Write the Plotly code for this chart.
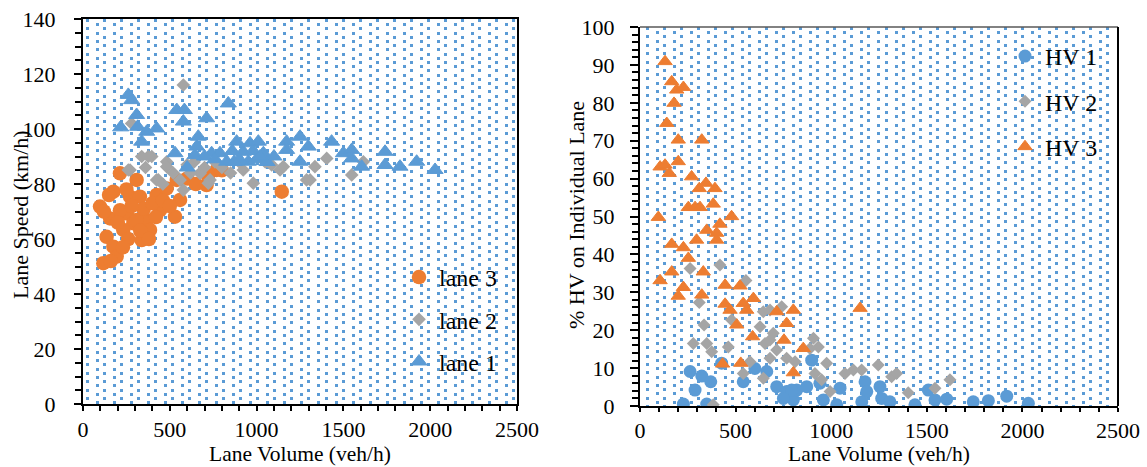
import plotly.graph_objects as go

# ---------------- data: left panel (Lane Speed vs Lane Volume) ----------------
lane3_vol = [213, 309, 175, 98, 156, 271, 328, 424, 482, 540, 559, 712, 770, 1145, 530, 444,
             252, 290, 367, 386, 338, 136, 175, 194, 117, 213, 232, 309, 150, 200, 260, 350,
             400, 460, 600, 650, 720, 800, 280, 330, 230, 160, 120, 380, 420, 250, 500]
lane3_speed = [83.9, 81.5, 77.2, 71.8, 67.5, 75.4, 75.4, 76.0, 78.4, 81.5, 74.2, 79.6, 85.1, 77.2, 68.1, 70.5,
               69.3, 65.7, 66.9, 63.3, 59.6, 60.8, 57.2, 53.6, 51.2, 70.5, 63.3, 66.9, 76.0, 66.0, 60.0, 71.0,
               73.0, 74.0, 82.0, 80.0, 83.0, 85.0, 72.0, 63.0, 57.0, 52.0, 70.0, 60.0, 68.0, 78.0, 72.0]

lane2_vol = [578, 280, 396, 338, 1404, 1615, 1336, 1308, 1548, 981, 1135, 1087, 923, 482, 261, 434,
             674, 722, 376, 271, 424, 482, 578, 559, 674, 732, 1154, 1288, 600, 640, 700, 760,
             800, 850, 520, 460, 360, 620, 1050, 900]
lane2_speed = [116.0, 102.0, 90.0, 90.0, 89.3, 88.1, 86.3, 81.5, 83.3, 80.3, 85.1, 86.9, 85.1, 88.1, 85.1, 81.5,
               84.0, 80.3, 90.0, 85.1, 81.5, 86.3, 77.8, 81.5, 83.9, 81.5, 86.3, 81.5, 87.0, 88.0, 86.0, 88.0,
               86.0, 84.0, 84.0, 80.0, 86.0, 84.0, 88.0, 88.0]

lane1_vol = [261, 280, 217, 309, 315, 367, 424, 338, 540, 584, 578, 712, 837, 530, 664, 655,
             645, 741, 789, 828, 885, 923, 962, 1010, 1039, 952, 1173, 1173, 1250, 1298, 1250, 1432,
             1500, 1548, 1605, 1548, 1740, 1740, 1826, 1922, 2028, 700, 760, 860, 1000, 1100, 600, 1060,
             900, 980, 1020, 870]
lane1_speed = [112.4, 110.5, 100.6, 105.1, 100.8, 99.0, 100.2, 95.4, 106.9, 106.9, 102.7, 103.9, 109.3, 91.2, 97.2, 93.6,
               90.5, 91.2, 91.2, 88.1, 95.4, 91.7, 94.8, 95.4, 91.2, 88.1, 95.4, 92.4, 97.2, 93.6, 88.1, 95.4,
               91.2, 92.4, 86.3, 89.3, 91.7, 86.9, 86.3, 88.1, 85.1, 90.0, 89.0, 92.0, 89.0, 90.0, 86.0, 88.0,
               89.0, 92.0, 90.0, 88.0]

# ---------------- data: right panel (% HV vs Lane Volume) ----------------
hv1_vol = [427, 262, 323, 370, 288, 227, 349, 540, 663, 601, 898, 715, 767, 802, 820, 872,
           941, 959, 1029, 1046, 1177, 1186, 1160, 1255, 1264, 1307, 1438, 1508, 1543, 1604, 1743, 1822,
           1918, 2031, 793, 750]
hv1_pct = [11.3, 9.1, 7.9, 6.4, 4.2, 0.5, 0.5, 6.4, 9.1, 9.9, 12.1, 5.1, 3.8, 1.6, 4.2, 5.1,
           6.0, 1.6, 0.3, 4.7, 6.4, 3.8, 1.1, 5.1, 2.0, 1.1, 0.3, 4.2, 1.6, 1.8, 1.1, 1.4,
           2.6, 0.7, 4.2, 2.0]

hv2_vol = [262, 418, 554, 310, 335, 645, 680, 741, 479, 628, 697, 680, 279, 349, 375, 462,
           654, 715, 907, 933, 889, 575, 680, 767, 811, 976, 540, 645, 915, 950, 994, 1072,
           1116, 1159, 1246, 1316, 1342, 1403, 1543, 1621, 383]
hv2_pct = [36.3, 37.2, 33.1, 27.3, 21.4, 24.9, 25.3, 26.2, 22.7, 20.9, 19.2, 17.4, 16.5, 16.5, 14.3, 15.6,
           16.5, 14.8, 17.9, 15.6, 15.2, 11.7, 12.6, 12.6, 11.7, 11.3, 8.6, 7.3, 8.6, 6.9, 3.8, 8.6,
           9.5, 9.5, 10.8, 7.7, 8.6, 3.5, 4.7, 6.9, 0.3]

hv3_vol = [131, 166, 192, 227, 178, 140, 200, 323, 200, 105, 131, 153, 270, 310, 345, 392,
           253, 288, 314, 383, 96, 479, 418, 349, 401, 401, 296, 166, 227, 253, 166, 331,
           105, 227, 200, 323, 445, 523, 445, 471, 540, 558, 593, 506, 715, 802, 767, 589,
           753, 854, 432, 527, 802, 1151]
hv3_pct = [90.9, 85.6, 83.4, 84.1, 79.9, 74.6, 70.2, 70.2, 64.5, 63.1, 63.6, 61.4, 60.5, 57.4, 58.8, 57.4,
           52.4, 52.4, 52.4, 53.3, 49.8, 50.0, 48.0, 46.4, 45.6, 43.8, 43.8, 42.7, 41.8, 39.0, 35.4, 35.4,
           33.1, 31.3, 29.0, 29.3, 31.9, 31.7, 26.9, 25.3, 27.1, 25.3, 28.4, 21.4, 24.9, 25.3, 21.8, 18.3,
           17.4, 15.2, 11.1, 11.3, 8.8, 25.8]

x_ticks = [0, 500, 1000, 1500, 2000, 2500]

# ---------------- style ----------------
BLUE = '#5B9BD5'
ORANGE = '#ED7D31'
GRAY = '#A5A5A5'
FONT = 'Liberation Serif'
W, H = 1147, 467

# plot-area pixel boxes (left, top, right, bottom)
L_BOX = (83, 19, 517, 404)
R_BOX = (640, 27, 1118, 406)


def dom_x(box):
    return [box[0] / W, box[2] / W]


def dom_y(box):
    return [1 - box[3] / H, 1 - box[1] / H]


fig = go.Figure()

# left panel traces
fig.add_trace(go.Scatter(x=lane3_vol, y=lane3_speed, mode='markers', name='lane 3',
                         marker=dict(symbol='circle', size=14.5, color=ORANGE),
                         xaxis='x', yaxis='y', legend='legend', legendgroup='l3'))
fig.add_trace(go.Scatter(x=lane2_vol, y=lane2_speed, mode='markers', name='lane 2',
                         marker=dict(symbol='diamond', size=10.5, color=GRAY),
                         xaxis='x', yaxis='y', legend='legend', legendgroup='l2'))
fig.add_trace(go.Scatter(x=lane1_vol, y=lane1_speed, mode='markers', name='lane 1',
                         marker=dict(symbol='triangle-up', size=14, color=BLUE,
                                     line=dict(color=BLUE, width=1)),
                         xaxis='x', yaxis='y', legend='legend', legendgroup='l1'))

# right panel traces
fig.add_trace(go.Scatter(x=hv1_vol, y=hv1_pct, mode='markers', name='HV 1',
                         marker=dict(symbol='circle', size=13, color=BLUE),
                         xaxis='x2', yaxis='y2', legend='legend2', legendgroup='h1'))
fig.add_trace(go.Scatter(x=hv2_vol, y=hv2_pct, mode='markers', name='HV 2',
                         marker=dict(symbol='diamond', size=10, color=GRAY),
                         xaxis='x2', yaxis='y2', legend='legend2', legendgroup='h2'))
fig.add_trace(go.Scatter(x=hv3_vol, y=hv3_pct, mode='markers', name='HV 3',
                         marker=dict(symbol='triangle-up', size=12.5, color=ORANGE,
                                     line=dict(color=ORANGE, width=1)),
                         xaxis='x2', yaxis='y2', legend='legend2', legendgroup='h3'))

# empty traces to host the dotted background pattern axes
for xa, ya in [('x3', 'y'), ('x4', 'y'), ('x5', 'y2'), ('x6', 'y2')]:
    fig.add_trace(go.Scatter(x=[None], y=[None], xaxis=xa, yaxis=ya, showlegend=False,
                             hoverinfo='skip', mode='markers'))

tickfont = dict(family=FONT, size=22, color='black')


def x_axis_style(ticklen):
    return dict(range=[0, 2500], tickvals=x_ticks, ticks='outside', ticklen=ticklen, tickwidth=1.5,
                tickcolor='black', showline=True, linecolor='black', linewidth=2, showgrid=False,
                zeroline=False, tickfont=tickfont, ticklabelstandoff=0, automargin=False,
                minor=dict(dtick=100, ticks='outside', ticklen=ticklen, tickwidth=1.5,
                           tickcolor='black', showgrid=False))


legend_font = dict(family=FONT, size=24, color='black')

fig.update_layout(
    width=W, height=H,
    margin=dict(l=0, r=0, t=0, b=0, autoexpand=False),
    paper_bgcolor='white', plot_bgcolor='white',
    showlegend=True,
    xaxis=dict(domain=dom_x(L_BOX), anchor='y', mirror=True, **x_axis_style(5)),
    xaxis2=dict(domain=dom_x(R_BOX), anchor='y2', mirror=False, **x_axis_style(3.5)),
    yaxis=dict(domain=dom_y(L_BOX), anchor='x', range=[0, 140], dtick=20, ticks='outside',
               ticklen=7, tickwidth=1.5, tickcolor='black', showline=True, linecolor='black',
               linewidth=2, mirror=True, showgrid=False, zeroline=False, tickfont=tickfont,
               ticklabelstandoff=14, automargin=False,
               minor=dict(dtick=5, ticks='outside', ticklen=6, tickwidth=1.5, tickcolor='black',
                          showgrid=False)),
    yaxis2=dict(domain=dom_y(R_BOX), anchor='x2', range=[0, 100], dtick=10, ticks='outside',
                ticklen=8, tickwidth=1.5, tickcolor='black', showline=True, linecolor='black',
                linewidth=2, mirror=False, showgrid=False, zeroline=False, tickfont=tickfont,
                ticklabelstandoff=11, automargin=False,
                minor=dict(dtick=2, ticks='outside', ticklen=6, tickwidth=1.5, tickcolor='black',
                           showgrid=False)),
    legend=dict(x=399 / W, y=1 - 255 / H, xanchor='left', yanchor='top',
                bgcolor='rgba(0,0,0,0)', font=legend_font,
                tracegroupgap=8, itemwidth=30, traceorder='grouped'),
    legend2=dict(x=1005 / W, y=1 - 34 / H, xanchor='left', yanchor='top',
                 bgcolor='rgba(0,0,0,0)', font=legend_font,
                 tracegroupgap=11, itemwidth=30, traceorder='grouped'),
)

# dotted pattern fill of the plot areas (pixel-periodic pattern)
PERIOD_PX = 17.05


def pattern_axis(over, anchor, box, offset_px, dash):
    scale = (box[2] - box[0]) / 2500.0
    return dict(overlaying=over, anchor=anchor, range=[0, 2500], showgrid=True,
                tick0=offset_px / scale, dtick=PERIOD_PX / scale,
                gridcolor=BLUE, gridwidth=3, griddash=dash, automargin=False,
                showticklabels=False, ticks='', showline=False, zeroline=False)


fig.update_layout(
    xaxis3=pattern_axis('x', 'y', L_BOX, 4.3, '3px,5.4px'),
    xaxis4=pattern_axis('x', 'y', L_BOX, 14.3, '0px,4.2px,3px,1.2px'),
    xaxis5=pattern_axis('x2', 'y2', R_BOX, 7.3, '3px,5.4px'),
    xaxis6=pattern_axis('x2', 'y2', R_BOX, 17.3, '0px,4.2px,3px,1.2px'),
)

# frame lines of right panel (thin gray top, black right)
fig.add_shape(type='line', xref='x2 domain', yref='y2 domain', x0=0, x1=1, y0=1, y1=1,
              line=dict(color='#595959', width=1.5))
fig.add_shape(type='line', xref='x2 domain', yref='y2 domain', x0=1, x1=1, y0=0, y1=1,
              line=dict(color='black', width=2))

# axis titles
title_font = dict(family=FONT, size=21.5, color='black')
fig.add_annotation(text='Lane Volume (veh/h)', x=(L_BOX[0] + L_BOX[2]) / 2 / W, y=0,
                   xref='paper', yref='paper', showarrow=False, font=title_font,
                   xanchor='center', yanchor='bottom', borderpad=0)
fig.add_annotation(text='Lane Volume (veh/h)', x=(R_BOX[0] + R_BOX[2]) / 2 / W, y=0,
                   xref='paper', yref='paper', showarrow=False, font=title_font,
                   xanchor='center', yanchor='bottom', borderpad=0)
fig.add_annotation(text='Lane Speed (km/h)', x=21 / W, y=1 - 215 / H, xref='paper', yref='paper',
                   showarrow=False, font=dict(family=FONT, size=22, color='black'), textangle=-90,
                   xanchor='center', yanchor='middle')
fig.add_annotation(text='% HV on Individual Lane', x=577 / W, y=1 - 215 / H, xref='paper',
                   yref='paper', showarrow=False, font=dict(family=FONT, size=22, color='black'),
                   textangle=-90, xanchor='center', yanchor='middle')

fig.write_html('out.html')
